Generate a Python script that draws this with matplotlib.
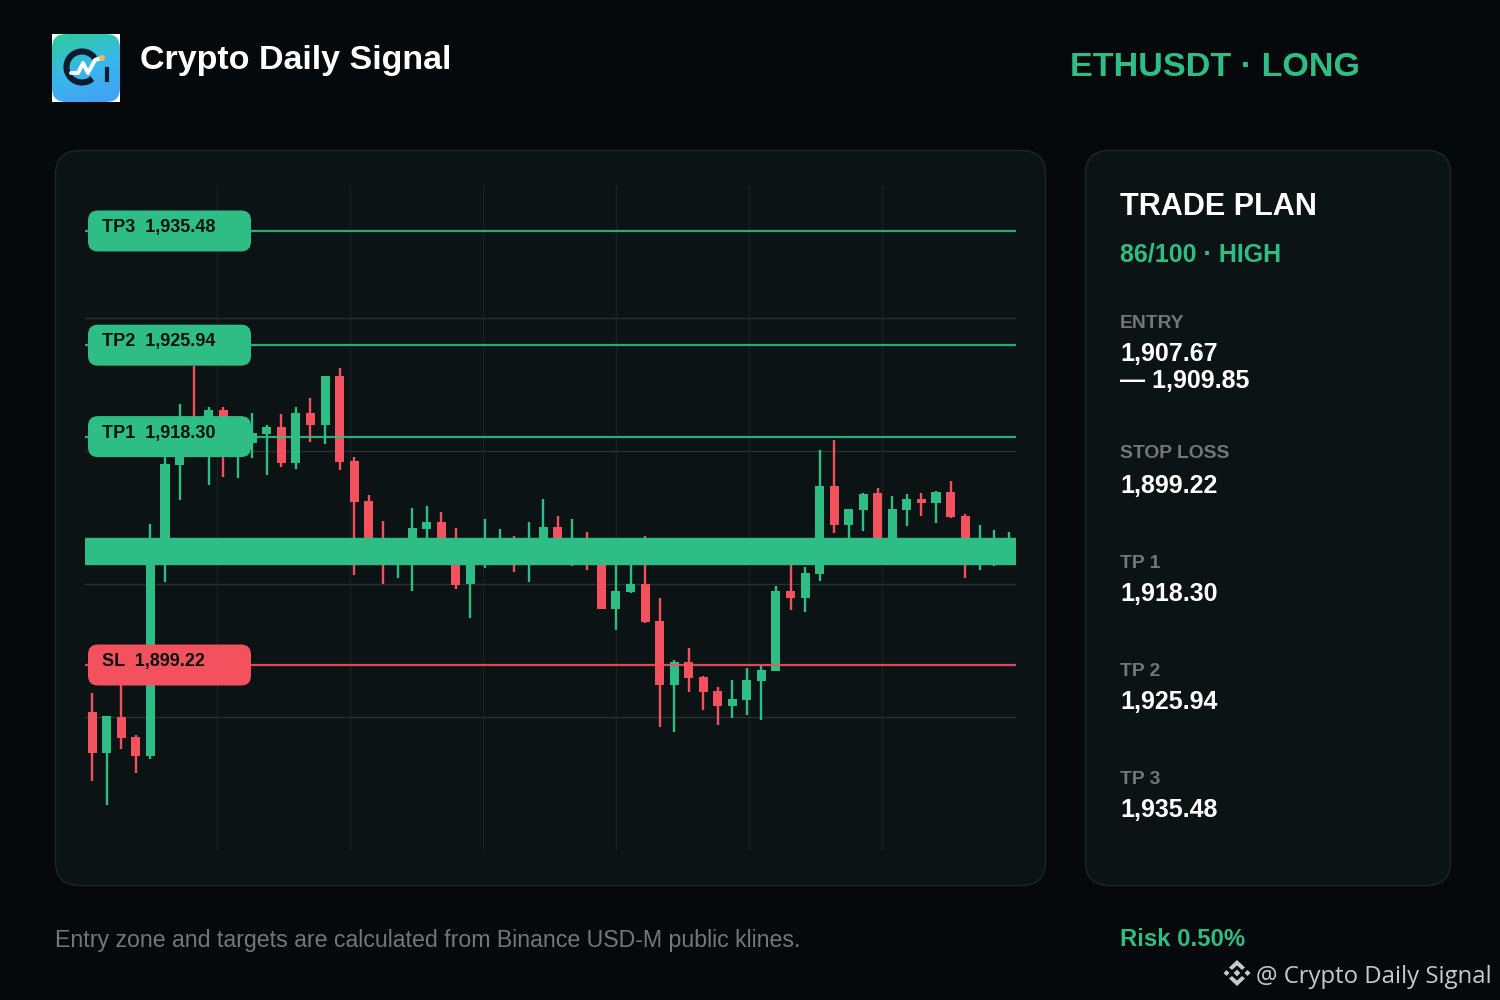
import numpy as np
import matplotlib
matplotlib.use("Agg")
import matplotlib.pyplot as plt
from matplotlib.patches import FancyBboxPatch, Rectangle, Arc, Circle, Polygon

# ---------- data ----------
highs = [1896.88,1894.96,1898.80,1893.37,1911.00,1917.60,1921.02,1924.20,1920.77,1920.77,1919.85,1920.27,1919.27,1920.19,1920.77,1921.53,
         1923.36,1924.03,1916.60,1913.42,1911.25,1909.66,1912.34,1912.50,1912.00,1910.66,1909.66,1911.42,1910.58,1910.00,1911.17,1913.09,
         1911.67,1911.42,1910.33,1909.66,1908.83,1908.83,1910.00,1904.82,1899.64,1900.64,1898.30,1897.38,1897.97,1898.97,1899.14,1905.82,
         1908.41,1907.41,1917.18,1918.02,1912.25,1913.59,1914.01,1913.34,1913.51,1913.59,1913.76,1914.59,1911.83,1910.92,1910.50,1910.33]
lows = [1889.53,1887.52,1892.20,1890.20,1891.37,1906.15,1913.00,1916.76,1914.26,1914.93,1914.84,1916.51,1915.09,1915.76,1915.59,1917.85,
        1917.68,1915.51,1906.74,1908.83,1905.99,1906.49,1905.40,1909.24,1908.83,1905.57,1903.15,1907.32,1908.41,1906.99,1906.15,1908.41,
        1908.41,1907.49,1907.16,1903.90,1902.14,1905.23,1902.73,1894.04,1893.62,1896.96,1895.46,1894.21,1894.79,1895.04,1894.63,1898.72,
        1903.81,1903.65,1906.24,1910.25,1909.24,1910.41,1908.83,1908.83,1910.83,1911.67,1911.08,1911.50,1906.49,1907.16,1907.49,1908.41]
opens = [1895.29,1891.87,1894.88,1893.21,1891.62,1909.24,1915.93,1918.02,1918.02,1920.52,1917.60,1917.77,1918.52,1919.10,1916.10,1920.27,
         1919.27,1923.36,1916.26,1912.92,1909.66,1908.83,1909.24,1910.58,1911.17,1909.24,1905.99,1908.83,1908.83,1909.24,1908.83,1909.24,
         1910.75,1908.83,1909.24,1909.24,1903.90,1905.32,1905.99,1902.90,1897.55,1899.47,1898.22,1897.05,1895.79,1896.30,1897.88,1898.72,
         1905.40,1904.82,1906.82,1914.17,1910.92,1912.17,1913.59,1909.24,1912.17,1913.09,1912.75,1913.67,1911.67,1908.83,1908.83,1908.83]
closes = [1891.87,1894.96,1893.12,1891.62,1909.24,1916.01,1918.02,1917.18,1920.52,1918.02,1919.27,1918.60,1919.10,1916.10,1920.27,1919.27,
          1923.36,1916.18,1912.84,1909.24,1908.83,1909.24,1910.66,1911.17,1909.24,1905.90,1909.24,1909.24,1909.24,1908.83,1909.24,1910.75,
          1909.24,1909.24,1908.83,1903.90,1905.40,1905.99,1902.81,1897.55,1899.47,1898.13,1896.96,1895.79,1896.38,1897.97,1898.80,1905.40,
          1904.82,1906.91,1914.17,1910.92,1912.25,1913.51,1909.24,1912.25,1913.09,1912.75,1913.67,1911.58,1909.24,1909.24,1909.24,1909.24]
entry_low, entry_high = 1907.67, 1909.85
stop_loss = 1899.22
targets = [("TP1", 1918.30), ("TP2", 1925.94), ("TP3", 1935.48)]
plan = [("STOP LOSS", "1,899.22"), ("TP 1", "1,918.30"), ("TP 2", "1,925.94"), ("TP 3", "1,935.48")]

BG = "#05090B"; PANEL = "#0C1314"; EDGE = "#1E2626"
GREEN = "#2EBE85"; RED = "#F4515F"; MUTED = "#727878"; DARK = "#07120E"
SANS = "Liberation Sans"

fig = plt.figure(figsize=(15, 10), dpi=100, facecolor=BG)

# full-figure overlay in reference pixels
bgax = fig.add_axes([0, 0, 1, 1], zorder=0)
bgax.set_xlim(0, 1500); bgax.set_ylim(1000, 0); bgax.axis("off")
for x0, y0, x1, y1 in [(55.5, 150.5, 1045.5, 885.5), (1085.5, 150.5, 1450.5, 885.5)]:
    bgax.add_patch(FancyBboxPatch((x0, y0), x1 - x0, y1 - y0, boxstyle="round,pad=0,rounding_size=24",
                                  fc=PANEL, ec=EDGE, lw=1))

# chart axes
ymin = stop_loss - 185 / 11.97
ymax = stop_loss + 480 / 11.97
ax = fig.add_axes([85 / 1500, 150 / 1000, 931 / 1500, 665 / 1000], zorder=1)
ax.set_facecolor("none")
ax.set_xlim(-0.5, 63.5); ax.set_ylim(ymin, ymax)
for s in ax.spines.values():
    s.set_visible(False)
ax.tick_params(left=False, bottom=False, labelleft=False, labelbottom=False)
ax.set_yticks(np.linspace(ymin, ymax, 6)[1:-1])
ax.set_xticks(np.linspace(-0.55, 63.45, 8)[1:-1])
ax.grid(True, axis="y", color="#2A3030", lw=1, zorder=0)
ax.grid(True, axis="x", color="#182020", lw=1, zorder=0)
ax.set_axisbelow(True)

idx = np.arange(len(opens))
o, c, h, l = map(np.array, (opens, closes, highs, lows))
cols = [GREEN if a >= b else RED for a, b in zip(c, o)]
ax.vlines(idx, l, h, colors=cols, lw=1.7, zorder=2)
ax.bar(idx, np.abs(c - o), bottom=np.minimum(o, c), width=0.62, color=cols, zorder=3)

ax.axhspan(entry_low, entry_high, fc=GREEN, ec=GREEN, lw=1, zorder=4)
for _, v in targets:
    ax.axhline(v, color=GREEN, lw=1.6, alpha=0.9, zorder=5)
ax.axhline(stop_loss, color=RED, lw=1.6, alpha=0.9, zorder=5)

# overlay for labels and text
ov = fig.add_axes([0, 0, 1, 1], zorder=2)
ov.set_xlim(0, 1500); ov.set_ylim(1000, 0); ov.axis("off"); ov.patch.set_alpha(0)

def ypx(v):
    return 850 - (v - ymin) / (ymax - ymin) * 665

def txt(x, y, s, px, color="white", weight="bold", family=SANS, **kw):
    return ov.text(x, y, s, fontsize=px * 0.72, color=color, fontweight=weight, family=family,
                   va="center", ha="left", **kw)

def pill(v, name, fc):
    y = ypx(v)
    ov.add_patch(FancyBboxPatch((88, y - 20.5), 163, 41, boxstyle="round,pad=0,rounding_size=10", fc=fc, ec="none"))
    txt(102, y - 3.5, f"{name}  {v:,.2f}", 18, color=DARK)

for n, v in targets:
    pill(v, n, GREEN)
pill(stop_loss, "SL", RED)

# header
txt(140, 60.5, "Crypto Daily Signal", 34)
txt(1070, 67, "ETHUSDT · LONG", 34.2, color=GREEN)

# logo
ov.add_patch(Rectangle((52, 34), 68, 68, fc="white", ec="none"))
gx, gy = np.meshgrid(np.linspace(0, 1, 64), np.linspace(0, 1, 64))
t = np.clip(gy * 0.75 + gx * 0.25, 0, 1)
top = np.array([0.18, 0.80, 0.60]); mid = np.array([0.22, 0.72, 0.92]); bot = np.array([0.27, 0.62, 0.98])
img = np.where(t[..., None] < 0.5, top + (mid - top) * t[..., None] * 2, mid + (bot - mid) * (t[..., None] - 0.5) * 2)
im = ov.imshow(img, extent=(52, 120, 102, 34), zorder=1, aspect="auto")
clip = FancyBboxPatch((52, 34), 68, 68, boxstyle="round,pad=0,rounding_size=14", fc="none", ec="none", transform=ov.transData)
ov.add_patch(clip); im.set_clip_path(clip)
ov.set_xlim(0, 1500); ov.set_ylim(1000, 0)
ov.add_patch(Arc((82, 67), 31, 31, theta1=48, theta2=325, lw=4.4, ec="#0E1B2C", zorder=2))
ov.plot([71, 78, 83, 88, 95, 102], [73, 73, 63, 73, 60, 58], color="white", lw=2.8, zorder=3, solid_capstyle="round")
ov.add_patch(Circle((102, 58), 3, fc="#F7B65A", ec="none", zorder=4))
ov.plot([107, 107], [69, 80], color="#0E1B2C", lw=3, zorder=3)

# right panel
txt(1120, 207, "TRADE PLAN", 30.7)
txt(1120, 254, "86/100 · HIGH", 25, color=GREEN)
txt(1120, 323, "ENTRY", 19.3, color=MUTED)
txt(1120, 354, f"{entry_low:,.2f}", 25)
txt(1120, 381, f"— {entry_high:,.2f}", 25)
for (name, val), y1, y2 in zip(plan, [454, 563, 671, 779], [486, 594, 702, 810]):
    txt(1120, y1, name, 19.3, color=MUTED)
    txt(1120, y2, val, 25)

# footer
txt(55, 940, "Entry zone and targets are calculated from Binance USD-M public klines.", 23.15, color=MUTED, weight="normal")
txt(1120, 940, "Risk 0.50%", 23.9, color=GREEN)

# watermark
wm = "#C9C9C9"
cx, cy = 1237, 973
for dx, dy, r in [(-10.5, 0, 3), (10.5, 0, 3), (0, 0, 3.4)]:
    ov.add_patch(Polygon([(cx + dx - r, cy + dy), (cx + dx, cy + dy - r), (cx + dx + r, cy + dy), (cx + dx, cy + dy + r)], fc=wm, ec="none"))
ov.add_patch(Polygon([(cx, cy - 13), (cx + 8, cy - 5.5), (cx + 5, cy - 3), (cx, cy - 7.5), (cx - 5, cy - 3), (cx - 8, cy - 5.5)], fc=wm, ec="none"))
ov.add_patch(Polygon([(cx, cy + 13), (cx + 8, cy + 5.5), (cx + 5, cy + 3), (cx, cy + 7.5), (cx - 5, cy + 3), (cx - 8, cy + 5.5)], fc=wm, ec="none"))
txt(1256, 977, "@ Crypto Daily Signal", 23.9, color=wm, weight="normal", family="Open Sans")

fig.savefig("out.png", dpi=100, facecolor=BG)
